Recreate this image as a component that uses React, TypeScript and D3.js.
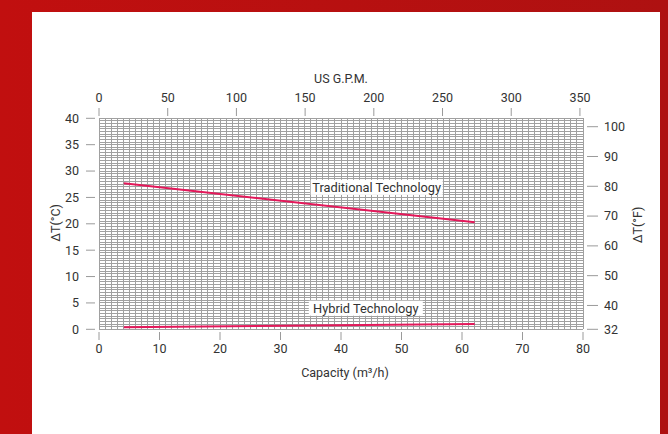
import React from "react";
import * as d3 from "d3";

const capacityPoints = [4.1, 62.1];
const traditionalValues = [27.7, 20.3];
const hybridValues = [0.4, 1.0];
const capacityTicks = [0, 10, 20, 30, 40, 50, 60, 70, 80];
const gpmTicks = [0, 50, 100, 150, 200, 250, 300, 350];
const celsiusTicks = [0, 5, 10, 15, 20, 25, 30, 35, 40];
const fahrenheitTicks = [32, 40, 50, 60, 70, 80, 90, 100];
const seriesLabels = ["Traditional Technology", "Hybrid Technology"];

const W = 668;
const H = 434;
const FONT = "Roboto, 'DejaVu Sans', sans-serif";
const TEXT = "#333";
const GRID = "#a0a0a0";
const TICK = "#9a9a9a";
const LINE = "#e3185a";

export default function App() {
  const x = d3.scaleLinear().domain([0, 80]).range([99, 583]);
  const gpmPerM3h = 4.403;
  const xg = d3.scaleLinear().domain([0, 80 * gpmPerM3h]).range([99, 583]);
  const y = d3.scaleLinear().domain([0, 40]).range([329.3, 118.3]);
  const yf = d3.scaleLinear().domain([32, 100]).range([329.3, 126.7]);

  const vGrid = d3.range(0, 81, 1);
  const hGrid = d3.range(0, 40.01, 0.5);

  const line = d3
    .line<number>()
    .x((_, i) => x(capacityPoints[i]))
    .y((d) => y(d));

  const labelBoxes = [
    { text: seriesLabels[0], cx: x(45.9), cy: y(26.9), w: 132 },
    { text: seriesLabels[1], cx: x(44.1), cy: y(4.0), w: 114 },
  ];

  return (
    <svg
      width={W}
      height={H}
      style={{ position: "absolute", left: 0, top: 0 }}
      fontFamily={FONT}
    >
      <defs>
        <linearGradient id="bg" x1="0" x2="1" y1="0" y2="0">
          <stop offset="0" stopColor="#c10f0f" />
          <stop offset="1" stopColor="#ae1111" />
        </linearGradient>
      </defs>
      <rect x={0} y={0} width={W} height={H} fill="url(#bg)" />
      <rect x={32} y={12} width={628} height={H - 12} fill="#fff" />

      {/* grid */}
      <g shapeRendering="crispEdges">
        {vGrid.map((v) => (
          <line
            key={"v" + v}
            x1={x(v)}
            x2={x(v)}
            y1={y(40)}
            y2={y(0)}
            stroke={GRID}
            strokeWidth={1}
          />
        ))}
        {hGrid.map((v) => (
          <line
            key={"h" + v}
            x1={x(0)}
            x2={x(80)}
            y1={y(v)}
            y2={y(v)}
            stroke={GRID}
            strokeWidth={1}
          />
        ))}
      </g>

      {/* axes */}
      <g fontSize={12.5} fill={TEXT}>
        {celsiusTicks.map((t) => (
          <g key={"c" + t}>
            <line x1={86} x2={95} y1={y(t)} y2={y(t)} stroke={TICK} />
            <text x={79} y={y(t)} dy="0.35em" textAnchor="end">
              {t}
            </text>
          </g>
        ))}
        {fahrenheitTicks.map((t) => (
          <g key={"f" + t}>
            <line x1={587} x2={598} y1={yf(t)} y2={yf(t)} stroke={TICK} />
            <text x={604} y={yf(t)} dy="0.35em" textAnchor="start">
              {t}
            </text>
          </g>
        ))}
        {capacityTicks.map((t) => (
          <g key={"x" + t}>
            <line x1={x(t)} x2={x(t)} y1={332} y2={340} stroke={TICK} />
            <text x={x(t)} y={353} textAnchor="middle">
              {t}
            </text>
          </g>
        ))}
        {gpmTicks.map((t) => (
          <g key={"g" + t}>
            <line x1={xg(t)} x2={xg(t)} y1={108} y2={116} stroke={TICK} />
            <text x={xg(t)} y={102} textAnchor="middle">
              {t}
            </text>
          </g>
        ))}
        <text x={341} y={83} textAnchor="middle">
          US G.P.M.
        </text>
        <text x={345} y={377} textAnchor="middle">
          Capacity (m³/h)
        </text>
        <text transform={`translate(60,223) rotate(-90)`} textAnchor="middle">
          ΔT(°C)
        </text>
        <text transform={`translate(642,225) rotate(-90)`} textAnchor="middle">
          ΔT(°F)
        </text>
      </g>

      {/* series */}
      <path
        d={line(traditionalValues) || ""}
        fill="none"
        stroke={LINE}
        strokeWidth={2}
      />
      <path
        d={line(hybridValues) || ""}
        fill="none"
        stroke={LINE}
        strokeWidth={2}
      />

      {labelBoxes.map((b) => (
        <g key={b.text}>
          <rect
            x={b.cx - b.w / 2}
            y={b.cy - 7.5}
            width={b.w}
            height={15}
            fill="#fff"
          />
          <text
            x={b.cx}
            y={b.cy}
            dy="0.36em"
            textAnchor="middle"
            fontSize={12.8}
            fill={TEXT}
          >
            {b.text}
          </text>
        </g>
      ))}
    </svg>
  );
}
